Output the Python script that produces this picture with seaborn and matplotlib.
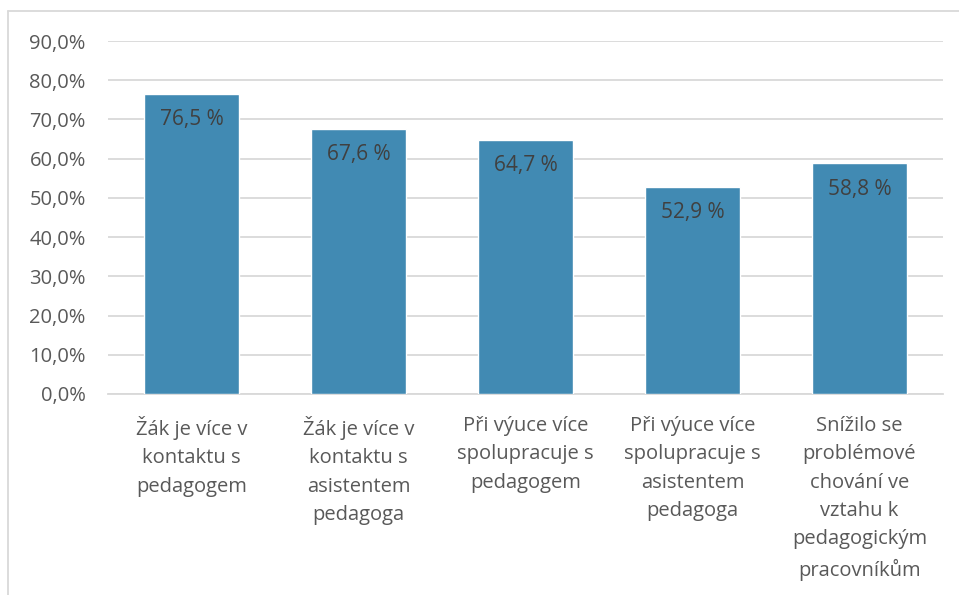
import pandas as pd
import matplotlib
matplotlib.use("Agg")
import matplotlib.pyplot as plt
from matplotlib.lines import Line2D
from matplotlib.ticker import FuncFormatter
import seaborn as sns

# data
categories = [
    "Žák je více v\nkontaktu s\npedagogem",
    "Žák je více v\nkontaktu s\nasistentem\npedagoga",
    "Při výuce více\nspolupracuje s\npedagogem",
    "Při výuce více\nspolupracuje s\nasistentem\npedagoga",
    "Snížilo se\nproblémové\nchování ve\nvztahu k\npedagogickým\npracovníkům",
]
values = [0.765, 0.676, 0.647, 0.529, 0.588]
value_labels = ["76,5 %", "67,6 %", "64,7 %", "52,9 %", "58,8 %"]
yticks = [0.0, 0.1, 0.2, 0.3, 0.4, 0.5, 0.6, 0.7, 0.8, 0.9]

df = pd.DataFrame({"kategorie": categories, "podil": values})

sns.set_style("white")
plt.rcParams["font.family"] = ["Open Sans", "DejaVu Sans"]

fig = plt.figure(figsize=(9.59, 5.95), dpi=100)
ax = fig.add_axes([108 / 959, 1 - 394 / 595, (943 - 108) / 959, (394 - 41) / 595])

sns.barplot(data=df, x="kategorie", y="podil", color="#418AB3", saturation=1,
            width=0.57, ax=ax, zorder=3)

for i, (v, lab) in enumerate(zip(values, value_labels)):
    ax.annotate(lab, (i, v), xytext=(0, -18.5), textcoords="offset points",
                ha="center", va="center", fontsize=15, color="#404040", zorder=4)

ax.set_ylim(0, 0.9)
ax.set_yticks(yticks)
ax.yaxis.set_major_formatter(FuncFormatter(lambda y, _: f"{y * 100:.1f}%".replace(".", ",")))
ax.grid(axis="y", color="#D9D9D9", linewidth=1.3, zorder=0)
ax.set_xlabel("")
ax.set_ylabel("")
for s in ["top", "right", "left"]:
    ax.spines[s].set_visible(False)
ax.spines["bottom"].set_color("#D9D9D9")
ax.spines["bottom"].set_linewidth(1.3)
ax.tick_params(axis="y", length=0, pad=16, labelsize=14.5, labelcolor="#595959")
ax.tick_params(axis="x", length=0, pad=16, labelsize=14.5, labelcolor="#595959")
for t in ax.get_xticklabels():
    t.set_linespacing(1.55)
    t.set_verticalalignment("top")

# chart frame (left and top edge visible in the reference)
fig.add_artist(Line2D([8 / 959, 8 / 959], [0, 1 - 11 / 595], transform=fig.transFigure,
                      color="#D9D9D9", linewidth=1.3))
fig.add_artist(Line2D([8 / 959, 1], [1 - 11 / 595, 1 - 11 / 595], transform=fig.transFigure,
                      color="#D9D9D9", linewidth=1.3))

fig.savefig("out.png", dpi=100)
